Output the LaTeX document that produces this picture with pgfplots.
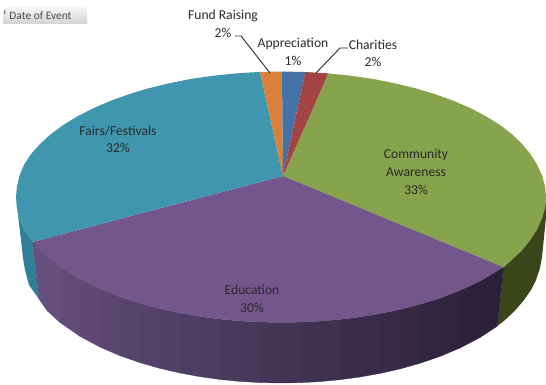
\documentclass[border=0pt]{standalone}
\usepackage{pgfplots}
\pgfplotsset{compat=1.18}
\usepackage{fontspec}
\setmainfont{Carlito}
\definecolor{cgreen}{HTML}{87A44C}
\definecolor{cpurple}{HTML}{72568C}
\definecolor{cteal}{HTML}{4096AE}
\definecolor{corange}{HTML}{D9813A}
\definecolor{cblue}{HTML}{4571A9}
\definecolor{cred}{HTML}{A44344}
\definecolor{sgreen}{HTML}{3A4519}
\definecolor{steal}{HTML}{2F7F97}
\definecolor{pd}{HTML}{2A2038}
\definecolor{pl}{HTML}{67517F}
\definecolor{txt}{HTML}{2A2A2A}
\begin{document}
\begin{tikzpicture}
\useasboundingbox (0,0) rectangle (546pt,385pt);
\begin{axis}[
  scale only axis, width=546pt, height=385pt,
  xmin=0, xmax=546, ymin=0, ymax=385, y dir=reverse,
  hide axis, clip=true,
  every axis plot/.append style={no markers, forget plot},
]
% side: teal and green
\addplot[fill=steal,draw=none] coordinates {(32.7,241.9)(24.1,229.5)(19.6,218.8)(17,207.9)(16,197)(18,215)(21,240)(23,258)(25,270)(29,285)(39,299)} --cycle;
\addplot[fill=sgreen,draw=none] coordinates {(503.4,267.2)(522,250.1)(537,229.5)(545,207.9)(546,197)(546,217)(542,257)(540,268)(536,280)(531,290)(523.4,300.8)(514.8,310.8)(504.4,320.5)(497.4,326.1)} --cycle;
% side: purple strips, right to left
\addplot[fill=pd,draw=pd,line width=.3pt] coordinates {(503.4,267.2)(480,281.2)(480,337.5)(497.4,326.1)} --cycle;
\addplot[fill=pl!4!pd,draw=pl!4!pd,line width=.3pt] coordinates {(480,281.2)(460,290.5)(460,348)(480,337.5)} --cycle;
\addplot[fill=pl!8!pd,draw=pl!8!pd,line width=.3pt] coordinates {(460,290.5)(440,298.2)(440,356.4)(460,348)} --cycle;
\addplot[fill=pl!12!pd,draw=pl!12!pd,line width=.3pt] coordinates {(440,298.2)(420,304.4)(420,363.3)(440,356.4)} --cycle;
\addplot[fill=pl!16!pd,draw=pl!16!pd,line width=.3pt] coordinates {(420,304.4)(400,309.6)(400,368.9)(420,363.3)} --cycle;
\addplot[fill=pl!20!pd,draw=pl!20!pd,line width=.3pt] coordinates {(400,309.6)(380,313.7)(380,373.4)(400,368.9)} --cycle;
\addplot[fill=pl!24!pd,draw=pl!24!pd,line width=.3pt] coordinates {(380,313.7)(360,317)(360,377)(380,373.4)} --cycle;
\addplot[fill=pl!28!pd,draw=pl!28!pd,line width=.3pt] coordinates {(360,317)(340,319.5)(340,379.7)(360,377)} --cycle;
\addplot[fill=pl!33!pd,draw=pl!33!pd,line width=.3pt] coordinates {(340,319.5)(320,321.2)(320,381.6)(340,379.7)} --cycle;
\addplot[fill=pl!37!pd,draw=pl!37!pd,line width=.3pt] coordinates {(320,321.2)(300,322.2)(300,382.7)(320,381.6)} --cycle;
\addplot[fill=pl!41!pd,draw=pl!41!pd,line width=.3pt] coordinates {(300,322.2)(280,322.5)(280,383)(300,382.7)} --cycle;
\addplot[fill=pl!45!pd,draw=pl!45!pd,line width=.3pt] coordinates {(280,322.5)(260,322.1)(260,382.6)(280,383)} --cycle;
\addplot[fill=pl!49!pd,draw=pl!49!pd,line width=.3pt] coordinates {(260,322.1)(240,321)(240,381.4)(260,382.6)} --cycle;
\addplot[fill=pl!53!pd,draw=pl!53!pd,line width=.3pt] coordinates {(240,321)(220,319.1)(220,379.5)(240,381.4)} --cycle;
\addplot[fill=pl!57!pd,draw=pl!57!pd,line width=.3pt] coordinates {(220,319.1)(200,316.5)(200,376.7)(220,379.5)} --cycle;
\addplot[fill=pl!61!pd,draw=pl!61!pd,line width=.3pt] coordinates {(200,316.5)(180,313)(180,373)(200,376.7)} --cycle;
\addplot[fill=pl!65!pd,draw=pl!65!pd,line width=.3pt] coordinates {(180,313)(160,308.7)(160,368.4)(180,373)} --cycle;
\addplot[fill=pl!70!pd,draw=pl!70!pd,line width=.3pt] coordinates {(160,308.7)(140,303.3)(140,362.7)(160,368.4)} --cycle;
\addplot[fill=pl!74!pd,draw=pl!74!pd,line width=.3pt] coordinates {(140,303.3)(120,296.8)(120,355.7)(140,362.7)} --cycle;
\addplot[fill=pl!78!pd,draw=pl!78!pd,line width=.3pt] coordinates {(120,296.8)(100,288.8)(100,347.1)(120,355.7)} --cycle;
\addplot[fill=pl!83!pd,draw=pl!83!pd,line width=.3pt] coordinates {(100,288.8)(80,279.1)(80,336.4)(100,347.1)} --cycle;
\addplot[fill=pl!89!pd,draw=pl!89!pd,line width=.3pt] coordinates {(80,279.1)(60,266.8)(60,322.5)(80,336.4)} --cycle;
\addplot[fill=pl!96!pd,draw=pl!96!pd,line width=.3pt] coordinates {(60,266.8)(32.7,241.9)(39,299)(47.2,310.8)(60,322.5)} --cycle;
% top surface
\addplot[fill=cgreen,draw=none] coordinates {(283,176)(328.4,73.4)(351.1,75.8)(373.3,79)(394.9,83.3)(415.5,88.3)(435.1,94.2)(453.7,100.9)(470.8,108.3)(486,116.3)(500,125)(512,134.2)(522,143.9)(530.5,154.1)(537,164.5)(542,175.2)(545,186.1)(546,197)(545,207.9)(542,218.8)(537,229.5)(530.5,239.9)(522,250.1)(512,259.8)(503.4,267.2)} --cycle;
\addplot[fill=cpurple,draw=none] coordinates {(283,176)(503.4,267.2)(486.5,277.7)(470.8,285.7)(453.7,293.1)(435.1,299.8)(415.5,305.7)(394.9,310.7)(373.3,315)(351.1,318.2)(328.4,320.6)(305.3,322)(282,322.5)(258.7,322)(235.6,320.6)(212.9,318.2)(190.7,315)(169.1,310.7)(148.5,305.7)(128.9,299.8)(110.3,293.1)(93.2,285.7)(77.5,277.7)(63.3,269)(50.8,259.8)(40.1,250.1)(32.7,241.9)} --cycle;
\addplot[fill=cteal,draw=none] coordinates {(283,176)(32.7,241.9)(24.1,229.5)(19.6,218.8)(17,207.9)(16,197)(17,186.1)(19.6,175.2)(24.1,164.5)(31,154.1)(40.1,143.9)(50.8,134.2)(63.3,125)(77.5,116.3)(93.2,108.3)(110.3,100.9)(128.9,94.2)(148.5,88.3)(169.1,83.3)(190.7,79)(212.9,75.8)(235.6,73.4)(260,71.9)} --cycle;
\addplot[fill=corange,draw=none] coordinates {(283,176)(260,71.9)(282,71.5)} --cycle;
\addplot[fill=cblue,draw=none] coordinates {(283,176)(282,71.5)(305.3,72)} --cycle;
\addplot[fill=cred,draw=none] coordinates {(283,176)(305.3,72)(328.4,73.4)} --cycle;
% leader lines
\addplot[draw=txt,line width=.9pt] coordinates {(235,36)(241,36)(270,73)};
\addplot[draw=txt,line width=.9pt] coordinates {(348,48)(340,48)(316,73)};
% button
\path[top color=white!92!gray,bottom color=white!65!gray] (axis cs:3,8) rectangle (axis cs:87,24);
\draw[txt,line width=.6pt] (axis cs:5,10) -- (axis cs:4.6,14);
% labels
\node[text=txt!85!white,font=\fontsize{11.4}{13}\selectfont,inner sep=0pt] at (axis cs:40.5,15.5) {Date of Event};
\tikzset{lab/.style={text=txt,font=\fontsize{13.6}{15}\selectfont,inner sep=0pt}}
\node[lab] at (axis cs:223,16) {Fund Raising};
\node[lab] at (axis cs:223,33) {2\%};
\node[lab] at (axis cs:293,44) {Appreciation};
\node[lab] at (axis cs:293,61) {1\%};
\node[lab] at (axis cs:373,45) {Charities};
\node[lab] at (axis cs:373,62) {2\%};
\node[lab] at (axis cs:118,131) {Fairs/Festivals};
\node[lab] at (axis cs:118,148) {32\%};
\node[lab] at (axis cs:416,155) {Community};
\node[lab] at (axis cs:416,172) {Awareness};
\node[lab] at (axis cs:416,190) {33\%};
\node[lab] at (axis cs:252,290) {Education};
\node[lab] at (axis cs:252,308) {30\%};
\end{axis}
\end{tikzpicture}
\end{document}
